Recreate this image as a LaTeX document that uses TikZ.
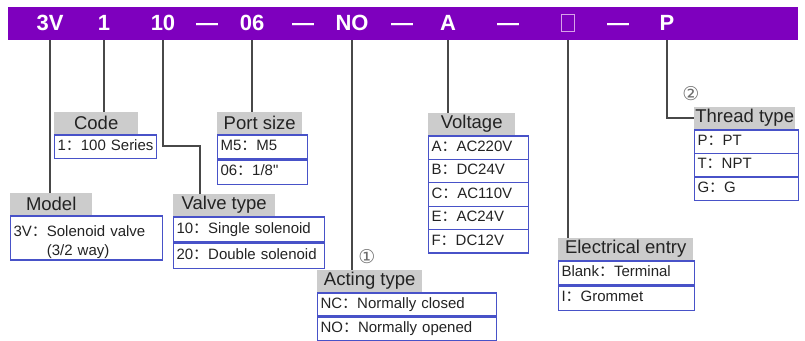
\documentclass[tikz,border=0pt]{standalone}
\usepackage{fontspec}
\setmainfont{Liberation Sans}
\newfontfamily\plainfont{Liberation Sans}
\newfontfamily\cjkfont{Noto Sans CJK SC}
\newfontfamily\symfont{DejaVu Sans}
\usepackage{xcolor}
\usepackage{tikz}
\usetikzlibrary{positioning}
\definecolor{barpurple}{RGB}{126,0,190}
\definecolor{sqpink}{RGB}{215,160,232}
\definecolor{hdrgrey}{RGB}{204,204,204}
\definecolor{boxblue}{RGB}{72,82,200}
\definecolor{leadgrey}{RGB}{72,72,72}
\definecolor{inkgrey}{RGB}{35,35,35}
\newcommand{\cln}{{\cjkfont ：}}

\begin{document}
\begin{tikzpicture}[x=1pt, y=-1pt,
    bartext/.style={text=white, inner sep=0pt, text height=15.8, text depth=0, font=\bfseries\fontsize{22}{22}\selectfont},
    hdr/.style={fill=hdrgrey, anchor=north west, minimum height=22, inner sep=0pt, text=inkgrey, font=\fontsize{18.5}{18.5}\selectfont},
    itemrow/.style={draw=boxblue, line width=1.1pt, minimum height=23.5, inner xsep=3pt, inner ysep=0pt, text height=11, text depth=3.5, align=left, text=inkgrey, font=\fontsize{15}{19.5}\selectfont},
    lead/.style={draw=leadgrey, line width=1.5pt},
    circnum/.style={inner sep=0pt, text=leadgrey!80, font=\symfont\fontsize{19}{19}\selectfont}]
    \useasboundingbox (0,0) rectangle (805,340);

    \node[fill=barpurple, anchor=north west, minimum width=790, minimum height=33, inner sep=0pt] (bar) at (8,7) {};
    \foreach \x/\n/\t in {50/c3v/3V, 104/c1/1, 163/c10/10, 252/c06/06, 352/cno/NO, 448/ca/A, 667/cp/P} {
        \node[bartext] (\n) at (\x,23) {\t};
    }
    \foreach \x [count=\i] in {207,303,402,508,618} {
        \node[bartext] (dash\i) at (\x,23) {\textemdash};
    }
    \node[draw=sqpink, line width=1.2pt, minimum width=13, minimum height=17, inner sep=0pt] (cbox) at (568,23) {};

    \node[hdr, minimum width=82] (model) at (10,193) {Model};
    \node[itemrow, text width=146, minimum height=44, text depth=14.5, below=0pt of model.south west, anchor=north west] (model1) {3V\cln Solenoid valve\\\phantom{3V\cln}(3/2 way)};

    \node[hdr, minimum width=84] (code) at (54,112) {Code};
    \node[itemrow, text width=96, below=0pt of code.south west, anchor=north west] (code1) {1\cln 100\ Series};

    \node[hdr, minimum width=102] (valve) at (173,194) {Valve type};
    \node[itemrow, text width=145, minimum height=25, below=0pt of valve.south west, anchor=north west] (valve1) {10\cln Single solenoid};
    \node[itemrow, text width=145, minimum height=25, below=0pt of valve1] (valve2) {20\cln Double solenoid};

    \node[hdr, minimum width=85] (port) at (217,112) {Port size};
    \node[itemrow, text width=84, minimum height=24, below=0pt of port.south west, anchor=north west] (port1) {M5\cln M5};
    \node[itemrow, text width=84, minimum height=24, below=0pt of port1] (port2) {06\cln 1/8{\plainfont "}};

    \node[hdr, minimum width=105] (acting) at (317,270) {Acting type};
    \node[itemrow, text width=173, minimum height=23, below=0pt of acting.south west, anchor=north west] (acting1) {NC\cln Normally closed};
    \node[itemrow, text width=173, minimum height=23, below=0pt of acting1] (acting2) {NO\cln Normally opened};
    \node[circnum] (num1) at (367,257) {①};

    \node[hdr, minimum width=87] (volt) at (428,113) {Voltage};
    \foreach \k/\v [count=\i] in {A/AC220V, B/DC24V, C/AC110V, E/AC24V, F/DC12V} {
        \node[itemrow, text width=94, minimum height=23.4, anchor=north west] (volt\i) at ([yshift=-(\i-1)*23.4pt]volt.south west) {\k\cln \v};
    }

    \node[hdr, minimum width=135] (entry) at (558,238) {Electrical entry};
    \node[itemrow, text width=130, minimum height=24, below=0pt of entry.south west, anchor=north west] (entry1) {Blank\cln Terminal};
    \node[itemrow, text width=130, minimum height=24, below=0pt of entry1] (entry2) {I\cln Grommet};

    \node[hdr, minimum width=101] (thread) at (694,107) {Thread type};
    \foreach \k/\v [count=\i] in {P/PT, T/NPT, G/G} {
        \node[itemrow, text width=98, anchor=north west] (thread\i) at ([yshift=-(\i-1)*23.5pt]thread.south west) {\k\cln \v};
    }
    \node[circnum] (num2) at (691,94) {②};

    \coordinate (vbend) at (200,146);
    \draw[lead] (c3v |- bar.south) -- (c3v |- model.north);
    \draw[lead] (c1 |- bar.south) -- (c1 |- code.north);
    \draw[lead] (c10 |- bar.south) |- (vbend) -- (vbend |- valve.north);
    \draw[lead] (c06 |- bar.south) -- (c06 |- port.north);
    \draw[lead] (cno |- bar.south) -- (cno |- acting.north);
    \draw[lead] (ca |- bar.south) -- (ca |- volt.north);
    \draw[lead] (cbox |- bar.south) -- (cbox |- entry.north);
    \draw[lead] (cp |- bar.south) |- (thread.west);
\end{tikzpicture}
\end{document}
